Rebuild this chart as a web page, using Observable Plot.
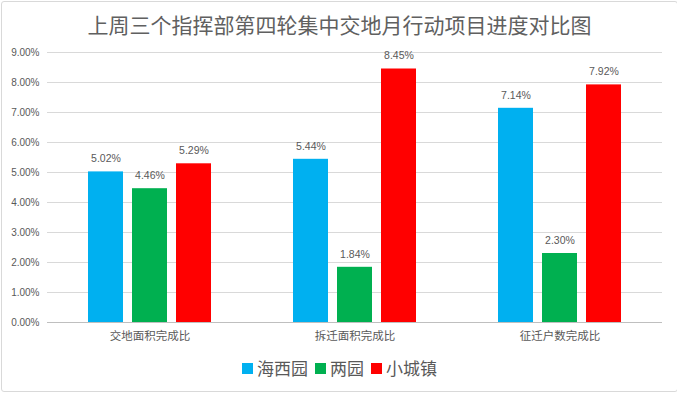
<!DOCTYPE html>
<html><head><meta charset="utf-8">
<script src="https://cdn.jsdelivr.net/npm/d3@7"></script>
<script src="https://cdn.jsdelivr.net/npm/@observablehq/plot@0.6"></script>
<style>
html,body{margin:0;padding:0;background:#fff;}
#wrap{position:relative;width:675px;height:389px;margin:1px 0 0 1px;border:1px solid #d9d9d9;border-radius:3px;font-family:"Liberation Sans","Noto Sans CJK SC",sans-serif;color:#595959;overflow:hidden;}
#title{position:absolute;left:0;top:9px;width:100%;text-align:center;font-size:21px;font-family:"Noto Sans CJK SC",sans-serif;color:#606060;line-height:26px;}
#chart{position:absolute;left:-2px;top:38px;}
#legend{position:absolute;left:0;top:354px;width:100%;display:flex;justify-content:center;align-items:center;font-size:17px;line-height:24px;font-family:"Noto Sans CJK SC",sans-serif;color:#595959;}
#legend .sw{display:inline-block;width:11px;height:11px;margin:0 4px 0 7px;}
#legend .sw.first{margin-left:0;}
</style></head>
<body>
<div id="wrap">
<div id="title"></div>
<div id="chart"></div>
<div id="legend"></div>
</div>
<script>
const title = "上周三个指挥部第四轮集中交地月行动项目进度对比图";
const categories = ["交地面积完成比", "拆迁面积完成比", "征迁户数完成比"];
const seriesNames = ["海西园", "两园", "小城镇"];
const colors = ["#00B0F0", "#00B050", "#FF0000"];
const haixiyuan = [5.02, 5.44, 7.14];
const liangyuan = [4.46, 1.84, 2.30];
const xiaochengzhen = [5.29, 8.45, 7.92];
const yTicks = [0, 1, 2, 3, 4, 5, 6, 7, 8, 9];

const seriesValues = [haixiyuan, liangyuan, xiaochengzhen];
const data = [];
categories.forEach((c, i) => seriesNames.forEach((s, j) => data.push({category: c, series: s, value: seriesValues[j][i]})));

document.getElementById("title").textContent = title;

const fmt = v => d3.format(".2f")(v) + "%";

const plot = Plot.plot({
  width: 677,
  height: 307,
  marginTop: 12,
  marginBottom: 25,
  marginLeft: 46,
  marginRight: 15,
  style: {fontFamily: "'Liberation Sans','Noto Sans CJK SC',sans-serif", fontSize: "10px", color: "#595959", background: "transparent"},
  fx: {domain: categories, paddingInner: 0, paddingOuter: 0, label: null},
  x: {domain: seriesNames, paddingInner: 0.2, paddingOuter: 0.878, axis: null},
  y: {domain: [0, 9], ticks: yTicks, label: null},
  color: {domain: seriesNames, range: colors},
  marks: [
    Plot.gridY(yTicks, {stroke: "#d9d9d9", strokeOpacity: 1}),
    Plot.ruleY([0], {stroke: "#bfbfbf"}),
    Plot.axisY(yTicks, {tickSize: 0, tickPadding: 8, tickFormat: fmt, label: null, fill: "#595959", fontSize: 10}),
    Plot.axisFx({anchor: "bottom", tickSize: 0, tickPadding: 9, label: null, fontSize: 11.5, fontFamily: "'Noto Sans CJK SC',sans-serif", fill: "#595959"}),
    Plot.barY(data, {fx: "category", x: "series", y: "value", fill: "series"}),
    Plot.text(data, {fx: "category", x: "series", y: "value", text: d => fmt(d.value), dy: -13, fill: "#595959", fontSize: 10.5})
  ]
});
document.getElementById("chart").appendChild(plot);

const leg = document.getElementById("legend");
seriesNames.forEach((s, i) => {
  const sw = document.createElement("span");
  sw.className = i === 0 ? "sw first" : "sw";
  sw.style.background = colors[i];
  leg.appendChild(sw);
  const t = document.createElement("span");
  t.textContent = s;
  leg.appendChild(t);
});
</script>
</body></html>
